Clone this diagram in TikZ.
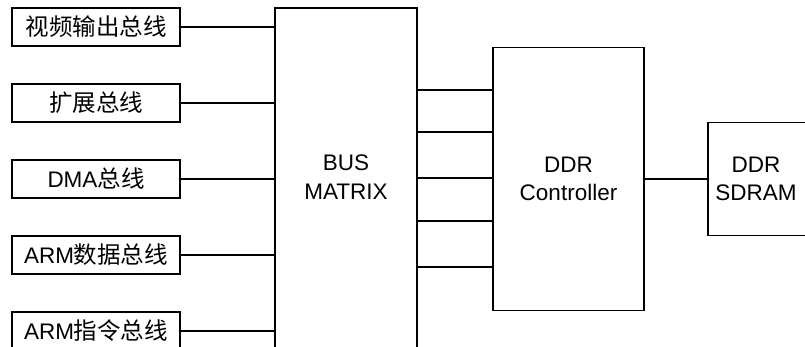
\documentclass[tikz,border=0pt]{standalone}
\usepackage{fontspec}
\setmainfont{Liberation Sans}
\newfontfamily\cjk{Noto Sans CJK SC}
\newcommand\zh[1]{{\cjk\fontsize{23.5}{28}\selectfont #1}}
\begin{document}
\begin{tikzpicture}[x=1pt,y=-1pt,
  every node/.style={font=\fontsize{22.5}{28.5}\selectfont, inner sep=0pt},
  busbox/.style={draw=black, line width=1.6pt, fill=white, rectangle},
  wire/.style={draw=black, line width=1.6pt}]
\useasboundingbox (0,0) rectangle (805,347);
\clip (0,0) rectangle (805,347);
\fill[white] (0,0) rectangle (805,347);
% left bus boxes
\node[busbox, minimum width=168pt, minimum height=38pt] (lb1) at (96,27) {\zh{视频输出总线}};
\node[busbox, minimum width=168pt, minimum height=38pt] (lb2) at (96,103) {\zh{扩展总线}};
\node[busbox, minimum width=168pt, minimum height=38pt] (lb3) at (96,179) {DMA\zh{总线}};
\node[busbox, minimum width=168pt, minimum height=38pt] (lb4) at (96,255) {ARM\zh{数据总线}};
\node[busbox, minimum width=168pt, minimum height=38pt] (lb5) at (96,331) {ARM\zh{指令总线}};
% bus matrix
\node[busbox, minimum width=142pt, minimum height=400pt] (bus) at (346,208) {};
\node[align=center] (bustext) at (346,177) {BUS\\MATRIX};
% DDR controller
\node[busbox, minimum width=151pt, minimum height=263pt, align=center] (ctrl) at (568.5,179) {DDR\\Controller};
% SDRAM
\node[busbox, minimum width=98pt, minimum height=113pt] (sdram) at (757,179) {};
\node[align=center] (sdramtext) at (756,179) {DDR\\SDRAM};
% connectors left
\foreach \i in {1,...,5} {
  \draw[wire] (lb\i.east) -- (lb\i.east -| bus.west);
}
% connectors bus -> controller
\coordinate (k1) at (0,90);
\coordinate (k2) at (0,132);
\coordinate (k3) at (0,178);
\coordinate (k4) at (0,221);
\coordinate (k5) at (0,267);
\foreach \i in {1,...,5} {
  \draw[wire] (bus.east |- k\i) -- (ctrl.west |- k\i);
}
% controller -> sdram
\draw[wire] (ctrl.east) -- (sdram.west);
\end{tikzpicture}
\end{document}
